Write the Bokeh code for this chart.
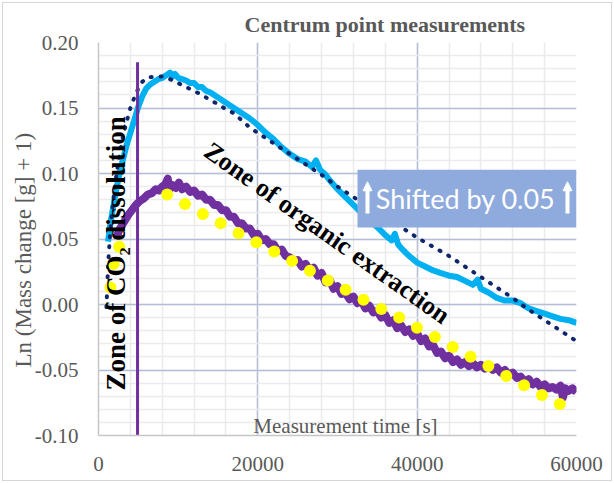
from bokeh.plotting import figure
from bokeh.models import FixedTicker, Label, BoxAnnotation, Arrow, NormalHead, Range1d, Title
from bokeh.embed import file_html
from bokeh.resources import INLINE
import math

# ---------------- data ----------------
# blue measurement, shifted by 0.05
cyan_x = [1200, 1500, 2000, 2500, 3000, 3500, 4000, 4500, 5000, 5500, 6000, 6500, 7000, 7500,
          8000, 8500, 9000, 9300, 9600, 10000, 10500, 11000, 11500, 12000, 12500, 13000, 13500,
          14000, 15000, 16000, 17000, 18000, 19000, 20000, 21000, 22000, 23000, 24000, 25000,
          26000, 26800, 27300, 27800, 28500, 29000, 30000, 31000, 32000, 33000, 34000, 35000,
          36000, 36800, 37200, 37600, 38000, 39000, 40000, 41000, 42000, 43000, 44000, 45000,
          46000, 47000, 47600, 48000, 49000, 50000, 51000, 52000, 53000, 54000, 55000, 56000,
          57000, 58000, 59000, 60000]
cyan_y = [0.048, 0.062, 0.080, 0.096, 0.109, 0.121, 0.131, 0.141, 0.151, 0.159, 0.165, 0.168,
          0.170, 0.172, 0.173, 0.175, 0.177, 0.174, 0.176, 0.173, 0.172, 0.171, 0.169, 0.169,
          0.166, 0.166, 0.163, 0.162, 0.158, 0.154, 0.150, 0.146, 0.142, 0.137, 0.131, 0.126,
          0.120, 0.115, 0.111, 0.109, 0.105, 0.110, 0.103, 0.099, 0.095, 0.088, 0.082, 0.076,
          0.070, 0.064, 0.059, 0.053, 0.049, 0.054, 0.046, 0.043, 0.037, 0.032, 0.029, 0.026,
          0.024, 0.022, 0.021, 0.018, 0.015, 0.019, 0.012, 0.009, 0.005, 0.003, 0.003, 0.001,
          -0.003, -0.005, -0.007, -0.009, -0.011, -0.012, -0.014]

# dotted trend line of the blue measurement
trend_x = [1000, 1200, 1500, 2000, 2500, 3000, 3500, 4000, 4500, 5000, 5500, 6000, 7000, 8000,
           9000, 10000, 11000, 12000, 13000, 14000, 15000, 16000, 17000, 18000, 19000, 20000,
           22000, 24000, 26000, 28000, 30000, 32000, 34000, 36000, 38000, 40000, 42000, 44000,
           46000, 48000, 50000, 52000, 54000, 56000, 58000, 60000]
trend_y = [-0.002, 0.030, 0.058, 0.088, 0.110, 0.126, 0.139, 0.150, 0.158, 0.165, 0.170, 0.173,
           0.174, 0.174, 0.172, 0.169, 0.166, 0.163, 0.160, 0.156, 0.153, 0.149, 0.146, 0.1405,
           0.135, 0.131, 0.123, 0.115, 0.107, 0.099, 0.090, 0.082, 0.074, 0.066, 0.059, 0.051,
           0.044, 0.037, 0.029, 0.021, 0.013, 0.005, -0.004, -0.012, -0.020, -0.028]

# purple measurement
purple_x = [2300, 2700, 3200, 3700, 4200, 4700, 5200, 5700, 6200, 6700, 7200, 7600, 8000, 8400,
            8700, 8900, 9300, 9700, 10100, 10500, 11000, 11500, 12000, 12500, 13000, 13500,
            14000, 14500, 15000, 15500, 16000, 16500, 17000, 17500, 18000, 18500, 19000, 19500,
            20000, 20500, 21000, 21500, 22000, 22500, 23000, 23500, 24000, 24500, 25000, 25500,
            26000, 26500, 27000, 27500, 28000, 28500, 29000, 29500, 30000, 30500, 31000, 31500,
            32000, 32500, 33000, 33500, 34000, 34500, 35000, 35500, 36000, 36500, 37000, 37500,
            38000, 38500, 39000, 39500, 40000, 40500, 41000, 41500, 42000, 42500, 43000, 43500,
            44000, 44500, 45000, 45500, 46000, 46500, 47000, 47500, 48000, 48500, 49000, 49500,
            50000, 50500, 51000, 51500, 52000, 52500, 53000, 53500, 54000, 54500, 55000, 55500,
            56000, 56500, 57000, 57500, 58000, 58300, 58600, 59000, 59500, 60000]
purple_y = [0.052, 0.058, 0.063, 0.068, 0.072, 0.076, 0.079, 0.081, 0.084, 0.085, 0.088, 0.087,
            0.090, 0.092, 0.096, 0.088, 0.091, 0.089, 0.093, 0.088, 0.090, 0.086, 0.087, 0.083,
            0.084, 0.080, 0.080, 0.076, 0.076, 0.072, 0.072, 0.067, 0.067, 0.062, 0.062, 0.058,
            0.058, 0.053, 0.054, 0.049, 0.050, 0.046, 0.046, 0.041, 0.042, 0.037, 0.036, 0.033,
            0.034, 0.029, 0.031, 0.026, 0.028, 0.022, 0.024, 0.017, 0.019, 0.012, 0.014, 0.008,
            0.009, 0.004, 0.006, 0.001, 0.003, -0.003, -0.001, -0.006, -0.005, -0.010, -0.008,
            -0.014, -0.012, -0.018, -0.016, -0.021, -0.019, -0.024, -0.022, -0.028, -0.026,
            -0.032, -0.031, -0.037, -0.036, -0.041, -0.039, -0.044, -0.042, -0.046, -0.044,
            -0.047, -0.045, -0.048, -0.046, -0.049, -0.047, -0.050, -0.048, -0.052, -0.050,
            -0.054, -0.052, -0.056, -0.055, -0.059, -0.057, -0.061, -0.059, -0.063, -0.061,
            -0.064, -0.063, -0.065, -0.062, -0.071, -0.064, -0.066, -0.064, -0.067]

# yellow model points
model_x = [1500, 1900, 2600, 8620, 10860, 13100, 15340, 17580, 19820, 22060, 24300, 26540,
           28780, 31020, 33260, 35500, 37740, 39980, 42220, 44460, 46700, 48940, 51180, 53420,
           55660, 57900]
model_y = [0.013, 0.031, 0.044, 0.084, 0.0767, 0.069, 0.062, 0.0544, 0.0475, 0.0404, 0.0333,
           0.0257, 0.0184, 0.0113, 0.0037, -0.0034, -0.010, -0.0177, -0.0248, -0.0324, -0.0398,
           -0.047, -0.0545, -0.0617, -0.069, -0.076]

zone_boundary_x = [4900]
zone_boundary_y0 = [-0.105]
zone_boundary_y1 = [0.185]

x_ticks = [0, 20000, 40000, 60000]
x_tick_labels = ["0", "20000", "40000", "60000"]
y_ticks = [-0.10, -0.05, 0.0, 0.05, 0.10, 0.15, 0.20]
y_tick_labels = ["-0.10", "-0.05", "0.00", "0.05", "0.10", "0.15", "0.20"]

title_text = "Centrum point measurements"
x_title = "Measurement time [s]"
y_title = "Ln (Mass change [g] + 1)"
zone1_text = "Zone of CO\u2082 dissolution"
zone2_text = "Zone of organic extraction"
shift_text = "Shifted by 0.05"

# ---------------- figure ----------------
SERIF = "Liberation Serif"
GREY = "#595959"

p = figure(width=608, height=477, output_backend="svg", toolbar_location=None,
           x_range=Range1d(0, 60000), y_range=Range1d(-0.10, 0.20),
           min_border_left=95, min_border_right=35, min_border_top=37, min_border_bottom=45,
           margin=(3, 3, 3, 3))
p.background_fill_color = "white"
p.border_fill_color = "white"
p.outline_line_color = None
p.styles = {"outline": "1px solid #d6d6d6", "outline-offset": "0px"}

p.title.text = title_text
p.title.align = "left"
p.title.offset = 146
p.title.text_font = SERIF
p.title.text_font_style = "bold"
p.title.text_font_size = "22px"
p.title.text_color = GREY
p.title.standoff = 12

p.add_layout(Title(text=y_title, align="left", offset=68, text_font=SERIF,
                   text_font_style="normal", text_font_size="23px", text_color=GREY,
                   standoff=-8), "left")

p.xaxis.ticker = FixedTicker(ticks=x_ticks, minor_ticks=list(range(0, 60001, 4000)))
p.yaxis.ticker = FixedTicker(ticks=y_ticks, minor_ticks=[round(-0.10 + 0.01 * i, 2) for i in range(31)])
p.xaxis.major_label_overrides = {t: l for t, l in zip(x_ticks, x_tick_labels)}
p.yaxis.major_label_overrides = {t: l for t, l in zip(y_ticks, y_tick_labels)}

for ax in (p.xaxis[0], p.yaxis[0]):
    ax.major_label_text_font = SERIF
    ax.major_label_text_font_size = "21px"
    ax.major_label_text_color = GREY
    ax.major_tick_line_color = None
    ax.minor_tick_line_color = None
    ax.major_tick_out = 0
    ax.major_tick_in = 0
    ax.minor_tick_out = 0
    ax.minor_tick_in = 0
    ax.axis_line_color = "#c6c6c6"
    ax.axis_line_width = 1.5
p.xaxis[0].major_label_standoff = 21
p.yaxis[0].major_label_standoff = 20

for g in (p.xgrid[0], p.ygrid[0]):
    g.grid_line_color = "#b4bfd6"
    g.grid_line_width = 1.5
    g.minor_grid_line_color = "#ebebeb"
    g.minor_grid_line_width = 1.5

# series
p.line(cyan_x, cyan_y, line_color="#00b0f0", line_width=6, line_join="round")
p.line(trend_x, trend_y, line_color="#10266a", line_width=4, line_dash="1 9", line_cap="round")
p.line(purple_x, purple_y, line_color="#7030a0", line_width=8, line_join="round")
p.scatter(model_x, model_y, size=12, fill_color="#ffff00", line_color=None)
p.segment(x0=zone_boundary_x, y0=zone_boundary_y0, x1=zone_boundary_x, y1=zone_boundary_y1,
          line_color="#7030a0", line_width=3)

# texts inside the plot area
p.add_layout(Label(x=31000, y=-0.0924, text=x_title, text_font=SERIF, text_font_size="21px",
                   text_color=GREY, text_align="center", text_baseline="alphabetic"))
p.add_layout(Label(x=2134, y=0.039, text=zone1_text, text_font=SERIF, text_font_style="bold",
                   text_font_size="27px", text_color="black", text_align="center",
                   text_baseline="alphabetic", angle=math.pi / 2))
p.add_layout(Label(x=28680, y=0.0546, text=zone2_text, text_font=SERIF, text_font_style="bold",
                   text_font_size="26px", text_color="black", text_align="center",
                   text_baseline="middle", angle=-0.616))

# shifted box
p.add_layout(BoxAnnotation(left=32510, right=60000, bottom=0.0587, top=0.1028,
                           fill_color="#8faadc", fill_alpha=1.0, line_color=None, level="annotation"))
for ax_ in (33765, 58870):
    p.add_layout(Arrow(end=NormalHead(size=9, fill_color="white", line_color="white"),
                       x_start=ax_, y_start=0.0694, x_end=ax_, y_end=0.0937,
                       line_color="white", line_width=4))
p.add_layout(Label(x=46080, y=0.0808, text=shift_text, text_font="Lato", text_font_size="27px",
                   text_color="white", text_align="center", text_baseline="middle"))

open("out.html", "w").write(file_html(p, INLINE))
